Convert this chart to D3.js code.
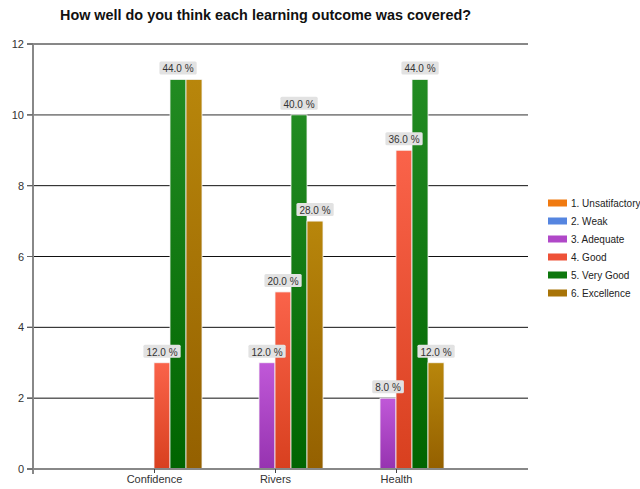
<!DOCTYPE html>
<html>
<head>
<meta charset="utf-8">
<script src="https://cdn.jsdelivr.net/npm/d3@7"></script>
<style>
  body { margin: 0; background: #fff; }
  text { font-family: "Liberation Sans", Arial, sans-serif; }
</style>
</head>
<body>
<svg id="chart" width="640" height="489"></svg>
<script>
// chart data
var categories = ["Confidence", "Rivers", "Health"];
var seriesNames = ["1. Unsatifactory", "2. Weak", "3. Adequate", "4. Good", "5. Very Good", "6. Excellence"];
var seriesValues = [
  [0, 0, 0],    // Unsatifactory
  [0, 0, 0],    // Weak
  [0, 3, 2],    // Adequate
  [3, 5, 9],    // Good
  [11, 10, 11], // Very Good
  [11, 7, 3]    // Excellence
];
var respondents = 25;
var yTicks = [0, 2, 4, 6, 8, 10, 12];
// labels the original chart hid because they overlapped
var hiddenLabels = [[5, 0]];

var colorsTop = ["#f58a1a", "#5f8fe6", "#c058d8", "#fa634a", "#228b22", "#b8860b"];
var colorsBottom = ["#e06a00", "#3f6fd0", "#9633b0", "#d8401f", "#006400", "#946000"];
var legendColors = ["#f07a10", "#5585e0", "#b048c8", "#ee5238", "#0d770d", "#a87408"];

var svg = d3.select("#chart");
var margin = {left: 33, top: 44, right: 112, bottom: 20};

var x = d3.scaleLinear().domain([0, 4]).range([margin.left, margin.left + 484]);
var y = d3.scaleLinear().domain([0, 12]).range([469, 44]);
var barW = 16;

// gradients
var defs = svg.append("defs");
seriesNames.forEach(function(s, i) {
  var g = defs.append("linearGradient").attr("id", "grad" + i)
    .attr("x1", 0).attr("y1", 0).attr("x2", 0).attr("y2", 1);
  g.append("stop").attr("offset", "0%").attr("stop-color", colorsTop[i]);
  g.append("stop").attr("offset", "100%").attr("stop-color", colorsBottom[i]);
});

// title
svg.append("text")
  .attr("x", 265.5).attr("y", 20)
  .attr("text-anchor", "middle")
  .style("font-weight", "bold").style("font-size", "14.4px").style("fill", "#111")
  .text("How well do you think each learning outcome was covered?");

// gridlines
svg.append("g").selectAll("line").data(yTicks.filter(function(d) { return d > 0; }))
  .enter().append("line")
  .attr("x1", margin.left - 6).attr("x2", 528)
  .attr("y1", function(d) { return y(d); }).attr("y2", function(d) { return y(d); })
  .attr("stroke", function(d) { return d === 10 ? "#888" : "#111"; })
  .attr("stroke-width", function(d) { return d === 10 ? 1.6 : 1; });

// y axis labels
var yAxis = d3.axisLeft(y).tickValues(yTicks).tickSize(0).tickPadding(9);
var yg = svg.append("g").attr("transform", "translate(" + margin.left + ",0)").call(yAxis);
yg.select(".domain").remove();
yg.selectAll("text").style("font-size", "11px").style("fill", "#333")
  .style("font-family", "'Liberation Sans', Arial, sans-serif");

// bars
var bars = svg.append("g");
seriesValues.forEach(function(vals, si) {
  bars.selectAll(".b" + si).data(vals).enter().append("rect")
    .attr("x", function(d, ci) { return x(ci + 1) + (si - 3) * barW; })
    .attr("y", function(d) { return y(d); })
    .attr("width", barW)
    .attr("height", function(d) { return y(0) - y(d); })
    .attr("fill", "url(#grad" + si + ")")
    .attr("stroke", "#f4f4f4").attr("stroke-width", 0.8)
    .style("display", function(d) { return d > 0 ? null : "none"; });
});

// axes lines
svg.append("line").attr("x1", margin.left).attr("x2", margin.left)
  .attr("y1", 44).attr("y2", 474).attr("stroke", "#888").attr("stroke-width", 2);
svg.append("line").attr("x1", margin.left - 6).attr("x2", 528)
  .attr("y1", y(0)).attr("y2", y(0)).attr("stroke", "#888").attr("stroke-width", 2);
yTicks.forEach(function(t) {
  svg.append("line").attr("x1", margin.left - 6).attr("x2", margin.left)
    .attr("y1", y(t)).attr("y2", y(t)).attr("stroke", "#666").attr("stroke-width", 1);
});

// x axis
var xAxis = d3.axisBottom(x).tickValues([1, 2, 3])
  .tickFormat(function(d) { return categories[d - 1]; })
  .tickSize(4).tickPadding(2);
var xg = svg.append("g").attr("transform", "translate(0," + y(0) + ")").call(xAxis);
xg.select(".domain").remove();
xg.selectAll("line").attr("stroke", "#444");
xg.selectAll("text").style("font-size", "11px").style("fill", "#333")
  .style("font-family", "'Liberation Sans', Arial, sans-serif");

// value labels
var labels = svg.append("g");
seriesValues.forEach(function(vals, si) {
  vals.forEach(function(v, ci) {
    if (v <= 0) return;
    var hidden = hiddenLabels.some(function(h) { return h[0] === si && h[1] === ci; });
    if (hidden) return;
    var cx = x(ci + 1) + (si - 3) * barW + barW / 2;
    var txt = (v / respondents * 100).toFixed(1) + " %";
    var g = labels.append("g");
    var t = g.append("text")
      .attr("x", cx).attr("y", y(v) - 7)
      .attr("text-anchor", "middle")
      .style("font-size", "10px").style("fill", "#333")
      .text(txt);
    var bb = t.node().getBBox();
    g.insert("rect", "text")
      .attr("x", bb.x - 3).attr("y", y(v) - 18)
      .attr("width", bb.width + 6).attr("height", 13)
      .attr("rx", 1.5)
      .attr("fill", "#e2e2e2");
  });
});

// legend
var legend = svg.append("g").attr("transform", "translate(548,203)");
seriesNames.forEach(function(s, i) {
  var row = legend.append("g").attr("transform", "translate(0," + i * 18 + ")");
  row.append("rect").attr("x", 0).attr("y", -3.5).attr("width", 19).attr("height", 7)
    .attr("fill", legendColors[i]);
  row.append("text").attr("x", 23).attr("y", 3.5)
    .style("font-size", "10px").style("fill", "#222").text(s);
});
</script>
</body>
</html>
